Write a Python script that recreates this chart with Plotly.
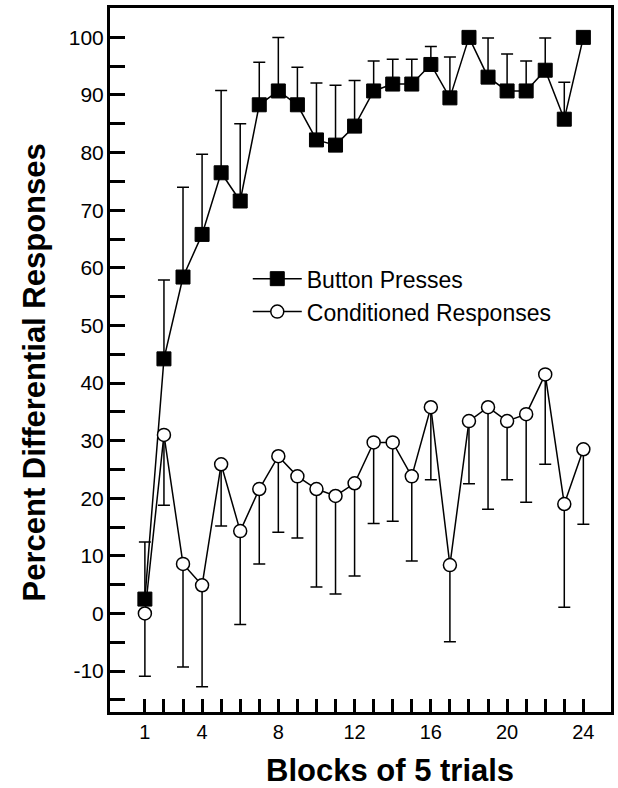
import plotly.graph_objects as go

blocks = list(range(1, 25))
button_presses = [2.5, 44.2, 58.4, 65.8, 76.5, 71.6, 88.3, 90.7, 88.3, 82.2, 81.3, 84.6,
                  90.7, 91.9, 91.9, 95.3, 89.5, 100.0, 93.1, 90.7, 90.7, 94.3, 85.8, 100.0]
button_err_up = [9.9, 13.7, 15.6, 13.9, 14.3, 13.4, 7.4, 9.3, 6.5, 9.9, 10.4, 7.9,
                 5.2, 4.3, 4.3, 3.1, 7.1, 0.0, 6.8, 6.4, 5.2, 5.6, 6.4, 0.0]
cond_resp = [0.0, 31.0, 8.6, 4.9, 25.9, 14.3, 21.6, 27.3, 23.8, 21.6, 20.4, 22.6,
             29.7, 29.7, 23.8, 35.8, 8.4, 33.4, 35.8, 33.4, 34.6, 41.5, 19.0, 28.5]
cond_err_down = [10.9, 12.2, 17.9, 17.6, 10.7, 16.2, 13.0, 13.2, 10.7, 17.0, 17.0, 16.1,
                 14.1, 13.7, 14.7, 12.6, 13.3, 10.9, 17.7, 10.2, 15.3, 15.6, 17.9, 13.0]
x_tick_vals = [1, 4, 8, 12, 16, 20, 24]
x_tick_text = ["1", "4", "8", "12", "16", "20", "24"]
y_tick_vals = [-10, 0, 10, 20, 30, 40, 50, 60, 70, 80, 90, 100]
y_tick_text = ["-10", "0", "10", "20", "30", "40", "50", "60", "70", "80", "90", "100"]

FONT = "Liberation Sans, Arial, sans-serif"
zeros = [0] * len(blocks)

fig = go.Figure()
fig.add_trace(go.Scatter(
    x=blocks, y=button_presses, mode="lines+markers", name="Button Presses",
    legendgroup="a",
    line=dict(color="black", width=1.5),
    marker=dict(symbol="square", size=14, color="black", line=dict(color="black", width=1)),
    error_y=dict(type="data", symmetric=False, array=button_err_up, arrayminus=zeros,
                 color="black", thickness=1.5, width=6),
))
fig.add_trace(go.Scatter(
    x=blocks, y=cond_resp, mode="lines+markers", name="Conditioned Responses",
    legendgroup="b",
    line=dict(color="black", width=1.5),
    marker=dict(symbol="circle", size=13, color="white", line=dict(color="black", width=1.5)),
    error_y=dict(type="data", symmetric=False, array=zeros, arrayminus=cond_err_down,
                 color="black", thickness=1.5, width=6),
))

fig.update_layout(
    width=618, height=788,
    margin=dict(l=110, r=4, t=8, b=76),
    paper_bgcolor="white", plot_bgcolor="white",
    font=dict(family=FONT, color="black"),
    showlegend=True,
    legend=dict(x=0.275, y=0.646, xanchor="left", yanchor="top",
                font=dict(size=23, family=FONT), bgcolor="rgba(0,0,0,0)",
                traceorder="grouped", tracegroupgap=0, itemwidth=49),
    xaxis=dict(range=[-0.83, 25.45], showgrid=False, zeroline=False,
               showline=True, linecolor="black", linewidth=3, mirror=True,
               tickmode="array", tickvals=x_tick_vals, ticktext=x_tick_text,
               ticks="inside", ticklen=13, tickwidth=2.5, tickcolor="black",
               tickfont=dict(size=20, family=FONT),
               minor=dict(tickvals=blocks, ticks="inside", ticklen=13, tickwidth=2.5,
                          tickcolor="black", showgrid=False)),
    yaxis=dict(range=[-17.1, 105.1], showgrid=False, zeroline=False,
               showline=True, linecolor="black", linewidth=3, mirror=True,
               tickmode="array", tickvals=y_tick_vals, ticktext=y_tick_text,
               ticks="inside", ticklen=15, tickwidth=2.5, tickcolor="black",
               tickfont=dict(size=21, family=FONT), ticklabelstandoff=-1,
               minor=dict(dtick=5, tick0=0, ticks="inside", ticklen=15, tickwidth=2.5,
                          tickcolor="black", showgrid=False)),
    annotations=[
        dict(text="<b>Blocks of 5 trials</b>", xref="paper", yref="paper",
             x=0.558, y=-0.055, xanchor="center", yanchor="top", showarrow=False,
             font=dict(size=31, family=FONT)),
        dict(text="<b>Percent Differential Responses</b>", xref="paper", yref="paper",
             x=-0.15, y=0.482, xanchor="center", yanchor="middle", showarrow=False,
             textangle=-90, font=dict(size=31, family=FONT)),
    ],
)

fig.write_html("out.html", config={"responsive": False, "displayModeBar": False},
               post_script="document.body.style.margin='0px';document.body.style.overflow='hidden';")
